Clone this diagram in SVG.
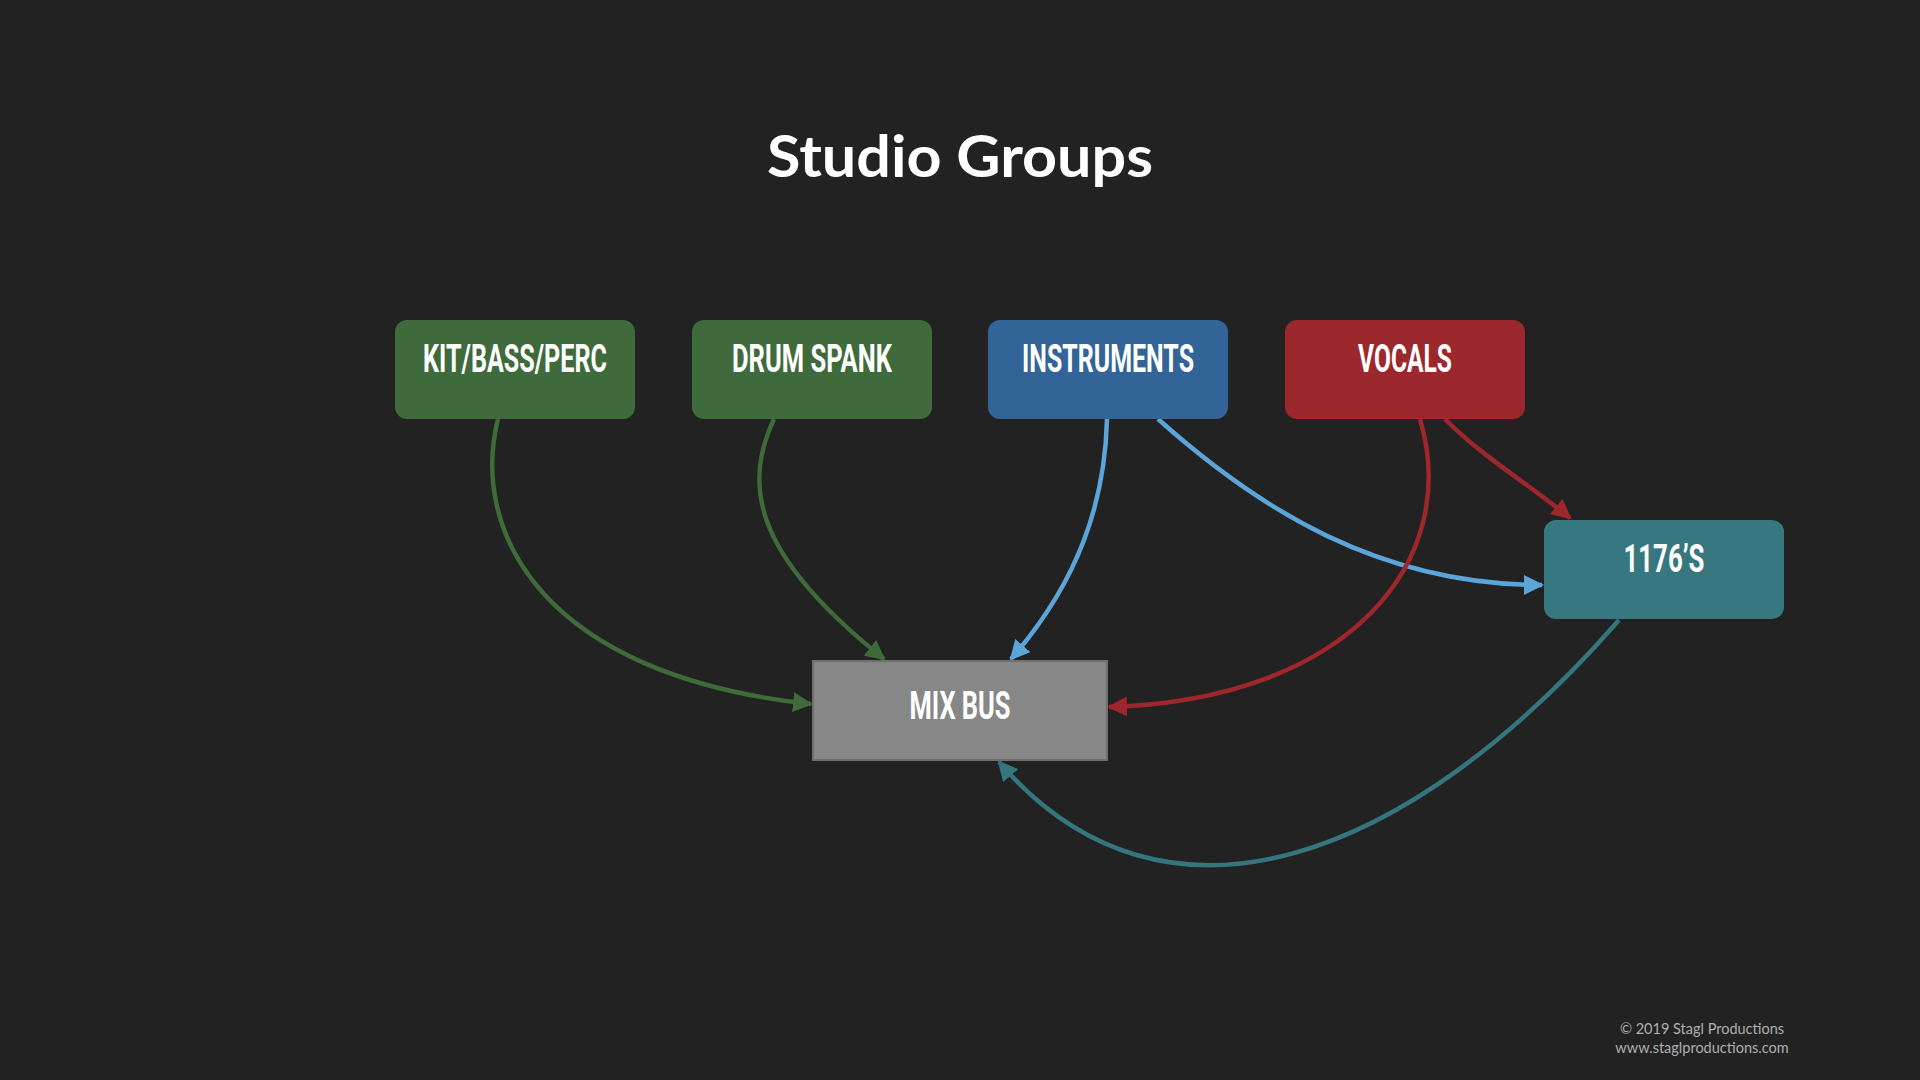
<svg xmlns="http://www.w3.org/2000/svg" width="1920" height="1080" viewBox="0 0 1920 1080">
<defs>
<style>
.lbl{font-family:"Roboto","Liberation Sans",sans-serif;font-weight:700;font-size:39px;fill:#ffffff;text-anchor:middle}
.c{fill:none;stroke-width:4.5}
.foot{font-family:"Lato","Open Sans",sans-serif;font-size:14.5px;fill:#b0b0b0;text-anchor:middle}
</style>
<marker id="ag" viewBox="0 0 20 20" refX="18" refY="10" markerWidth="20" markerHeight="20" markerUnits="userSpaceOnUse" orient="auto"><path d="M0,0 L20,10 L0,20 Z" fill="#3f6b3b"/></marker>
<marker id="ab" viewBox="0 0 20 20" refX="18" refY="10" markerWidth="20" markerHeight="20" markerUnits="userSpaceOnUse" orient="auto"><path d="M0,0 L20,10 L0,20 Z" fill="#5aa5da"/></marker>
<marker id="ar" viewBox="0 0 20 20" refX="18" refY="10" markerWidth="20" markerHeight="20" markerUnits="userSpaceOnUse" orient="auto"><path d="M0,0 L20,10 L0,20 Z" fill="#9e272d"/></marker>
<marker id="at" viewBox="0 0 20 20" refX="18" refY="10" markerWidth="20" markerHeight="20" markerUnits="userSpaceOnUse" orient="auto"><path d="M0,0 L20,10 L0,20 Z" fill="#35767e"/></marker>
</defs>
<rect width="1920" height="1080" fill="#222222"/>
<text x="960" y="177" font-family="Lato,'Open Sans',sans-serif" font-weight="700" font-size="58" fill="#ffffff" text-anchor="middle" textLength="386" lengthAdjust="spacingAndGlyphs">Studio Groups</text>
<g id="connectors">
<path class="c" stroke="#3f6b3b" marker-end="url(#ag)" d="M498,419 C470,530 540,675 811,704"/>
<path class="c" stroke="#3f6b3b" marker-end="url(#ag)" d="M774,419 C740,490 760,560 884,659"/>
<path class="c" stroke="#5aa5da" marker-end="url(#ab)" d="M1107,419 C1105,500 1080,580 1011,659"/>
<path class="c" stroke="#5aa5da" marker-end="url(#ab)" d="M1158,419 C1260,510 1380,585 1542,585"/>
<path class="c" stroke="#9e272d" marker-end="url(#ar)" d="M1420,419 C1462,560 1350,700 1109,707"/>
<path class="c" stroke="#9e272d" marker-end="url(#ar)" d="M1445,419 C1480,455 1530,485 1570,518"/>
<path class="c" stroke="#35767e" marker-end="url(#at)" d="M1619,620 C1410,860 1165,955 999,762"/>
</g>
<g id="kit"><rect x="395" y="320" width="240" height="99" rx="12" fill="#3f6a3b"/><text class="lbl" x="515" y="372" textLength="184" lengthAdjust="spacingAndGlyphs">KIT/BASS/PERC</text></g>
<g id="drum"><rect x="692" y="320" width="240" height="99" rx="12" fill="#3f6a3b"/><text class="lbl" x="812" y="372" textLength="160" lengthAdjust="spacingAndGlyphs">DRUM SPANK</text></g>
<g id="instruments"><rect x="988" y="320" width="240" height="99" rx="12" fill="#326497"/><text class="lbl" x="1108" y="372" textLength="172" lengthAdjust="spacingAndGlyphs">INSTRUMENTS</text></g>
<g id="vocals"><rect x="1285" y="320" width="240" height="99" rx="12" fill="#9c272d"/><text class="lbl" x="1405" y="372" textLength="94" lengthAdjust="spacingAndGlyphs">VOCALS</text></g>
<g id="n1176"><rect x="1544" y="520" width="240" height="99" rx="12" fill="#377780"/><text class="lbl" x="1664" y="572" textLength="81" lengthAdjust="spacingAndGlyphs">1176’S</text></g>
<g id="mixbus"><rect x="813" y="661" width="294" height="99" fill="#878787" stroke="#6e6e6e" stroke-width="2"/><text class="lbl" x="960" y="719" textLength="101" lengthAdjust="spacingAndGlyphs">MIX BUS</text></g>
<text class="foot" x="1702" y="1034">© 2019 Stagl Productions</text>
<text class="foot" x="1702" y="1053">www.staglproductions.com</text>
</svg>
